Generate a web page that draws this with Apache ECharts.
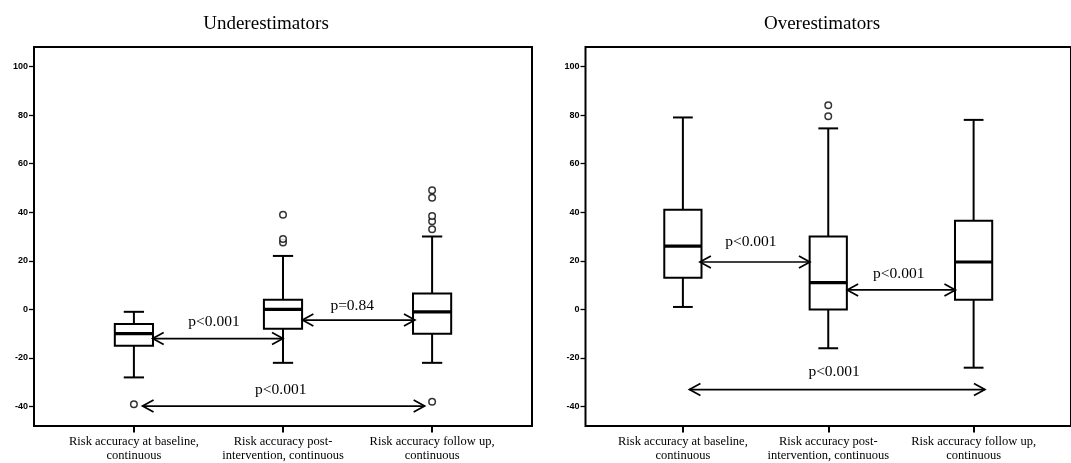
<!DOCTYPE html>
<html>
<head>
<meta charset="utf-8">
<script src="https://cdn.jsdelivr.net/npm/echarts@6/dist/echarts.min.js"></script>
<style>
  html, body { margin: 0; padding: 0; background: #fff; }
  #chart { width: 1071px; height: 463px; }
</style>
</head>
<body>
<div id="chart"></div>
<script>
// categories / ticks
var categories = ['Risk accuracy at baseline,\ncontinuous', 'Risk accuracy post-\nintervention, continuous', 'Risk accuracy follow up,\ncontinuous'];
var xTicks = [0, 1, 2];
var yTicks = [-40, -20, 0, 20, 40, 60, 80, 100];

// Underestimators: whisker low, Q1, median, Q3, whisker high
var underLow = [-28, -22, -22];
var underQ1 = [-15, -8, -10];
var underMedian = [-10, 0, -1];
var underQ3 = [-6, 4, 6.5];
var underHigh = [-1, 22, 30];
var underOutliers = [[0, -39], [1, 27.5], [1, 29], [1, 39], [2, 33], [2, 36.3], [2, 38.4], [2, 46], [2, 49], [2, -38]];
// comparisons [from, to, y] and p label anchor [x, y]
var underArrows = [[0.126, 1, -12], [1.13, 1.885, -4.4], [0.058, 1.95, -39.8]];
var underPPos = [[0.537, -5.2], [1.464, 1.6], [0.985, -33.3]];
var underPText = ['p<0.001', 'p=0.84', 'p<0.001'];

// Overestimators
var overLow = [1, -16, -24];
var overQ1 = [13, 0, 4];
var overMedian = [26, 11, 19.5];
var overQ3 = [41, 30, 36.5];
var overHigh = [79, 74.5, 78];
var overOutliers = [[1, 79.5], [1, 84]];
var overArrows = [[0.117, 0.874, 19.5], [1.13, 1.875, 8], [0.045, 2.078, -33]];
var overPPos = [[0.468, 27.7], [1.485, 14.4], [1.04, -25.8]];
var overPText = ['p<0.001', 'p<0.001', 'p<0.001'];

var serif = '"Liberation Serif", "Times New Roman", serif';

function boxData(lo, q1, md, q3, hi) {
    return categories.map(function (c, i) { return [i, lo[i], q1[i], md[i], q3[i], hi[i]]; });
}
function arrowData(arrows, pos) {
    return arrows.map(function (a, i) { return a.concat(pos[i]); });
}
function stroke(w) {
    return { stroke: '#000', lineWidth: w, fill: null };
}

function renderBox(params, api) {
    var x = api.value(0);
    var lo = api.coord([x, api.value(1)]);
    var q1 = api.coord([x, api.value(2)]);
    var md = api.coord([x, api.value(3)]);
    var q3 = api.coord([x, api.value(4)]);
    var hi = api.coord([x, api.value(5)]);
    var unit = api.size([1, 0])[0];
    var hw = unit * 0.128;
    var cw = unit * 0.068;
    return {
        type: 'group',
        children: [
            { type: 'line', shape: { x1: lo[0], y1: lo[1], x2: q1[0], y2: q1[1] }, style: stroke(2) },
            { type: 'line', shape: { x1: hi[0], y1: hi[1], x2: q3[0], y2: q3[1] }, style: stroke(2) },
            { type: 'line', shape: { x1: lo[0] - cw, y1: lo[1], x2: lo[0] + cw, y2: lo[1] }, style: stroke(2) },
            { type: 'line', shape: { x1: hi[0] - cw, y1: hi[1], x2: hi[0] + cw, y2: hi[1] }, style: stroke(2) },
            { type: 'rect', shape: { x: q3[0] - hw, y: q3[1], width: hw * 2, height: q1[1] - q3[1] },
              style: { fill: '#fff', stroke: '#000', lineWidth: 2 } },
            { type: 'line', shape: { x1: md[0] - hw, y1: md[1], x2: md[0] + hw, y2: md[1] }, style: stroke(3.2) }
        ]
    };
}

function arrowRenderer(texts) {
    return function (params, api) {
        var a = api.coord([api.value(0), api.value(2)]);
        var b = api.coord([api.value(1), api.value(2)]);
        var t = api.coord([api.value(3), api.value(4)]);
        var L = 11, H = 6;
        return {
            type: 'group',
            children: [
                { type: 'line', shape: { x1: a[0], y1: a[1], x2: b[0], y2: b[1] }, style: stroke(1.7) },
                { type: 'polyline', shape: { points: [[a[0] + L, a[1] - H], [a[0], a[1]], [a[0] + L, a[1] + H]] }, style: stroke(1.7) },
                { type: 'polyline', shape: { points: [[b[0] - L, b[1] - H], [b[0], b[1]], [b[0] - L, b[1] + H]] }, style: stroke(1.7) },
                { type: 'text', x: t[0], y: t[1],
                  style: { text: texts[params.dataIndex], fill: '#000', font: '15.5px ' + serif, align: 'center', verticalAlign: 'middle' } }
            ]
        };
    };
}

function makeX(idx) {
    return {
        type: 'value', gridIndex: idx, min: -0.67, max: 2.67, position: 'bottom',
        axisLine: { show: false, onZero: false },
        splitLine: { show: false },
        axisTick: { show: true, customValues: xTicks, length: 6.5, lineStyle: { color: '#000', width: 2 } },
        axisLabel: {
            customValues: xTicks, margin: 9, color: '#000', fontFamily: serif, fontSize: 12.5, lineHeight: 14,
            formatter: function (v) { return categories[Math.round(v)]; }
        }
    };
}
function makeY(idx) {
    return {
        type: 'value', gridIndex: idx, min: -48, max: 108, position: 'left',
        axisLine: { show: false, onZero: false },
        splitLine: { show: false },
        axisTick: { show: true, customValues: yTicks, length: 5, lineStyle: { color: '#000', width: 1.3 } },
        axisLabel: { customValues: yTicks, margin: 6, color: '#000', fontFamily: '"Liberation Sans", Arial, sans-serif', fontSize: 9, fontWeight: 'bold' }
    };
}

var myChart = echarts.init(document.getElementById('chart'));
var option = {
    animation: false,
    backgroundColor: '#fff',
    title: [
        { text: 'Underestimators', left: 266, top: 15, textAlign: 'center', padding: 0,
          textStyle: { fontFamily: serif, fontSize: 19, fontWeight: 'normal', color: '#000' } },
        { text: 'Overestimators', left: 822, top: 15, textAlign: 'center', padding: 0,
          textStyle: { fontFamily: serif, fontSize: 19, fontWeight: 'normal', color: '#000' } }
    ],
    grid: [
        { left: 34, top: 47, width: 498, height: 380, show: true, borderColor: '#000', borderWidth: 2, backgroundColor: 'transparent' },
        { left: 585.5, top: 47, width: 498, height: 380, show: true, borderColor: '#000', borderWidth: 2, backgroundColor: 'transparent' }
    ],
    xAxis: [makeX(0), makeX(1)],
    yAxis: [makeY(0), makeY(1)],
    series: [
        { type: 'custom', xAxisIndex: 0, yAxisIndex: 0, renderItem: renderBox, z: 2,
          data: boxData(underLow, underQ1, underMedian, underQ3, underHigh) },
        { type: 'scatter', xAxisIndex: 0, yAxisIndex: 0, symbol: 'circle', symbolSize: 6.5, z: 3,
          itemStyle: { color: '#fff', borderColor: '#000', borderWidth: 1.5 }, data: underOutliers },
        { type: 'custom', xAxisIndex: 0, yAxisIndex: 0, renderItem: arrowRenderer(underPText), z: 4,
          data: arrowData(underArrows, underPPos) },
        { type: 'custom', xAxisIndex: 1, yAxisIndex: 1, renderItem: renderBox, z: 2,
          data: boxData(overLow, overQ1, overMedian, overQ3, overHigh) },
        { type: 'scatter', xAxisIndex: 1, yAxisIndex: 1, symbol: 'circle', symbolSize: 6.5, z: 3,
          itemStyle: { color: '#fff', borderColor: '#000', borderWidth: 1.5 }, data: overOutliers },
        { type: 'custom', xAxisIndex: 1, yAxisIndex: 1, renderItem: arrowRenderer(overPText), z: 4,
          data: arrowData(overArrows, overPPos) }
    ]
};
myChart.setOption(option);
</script>
</body>
</html>
